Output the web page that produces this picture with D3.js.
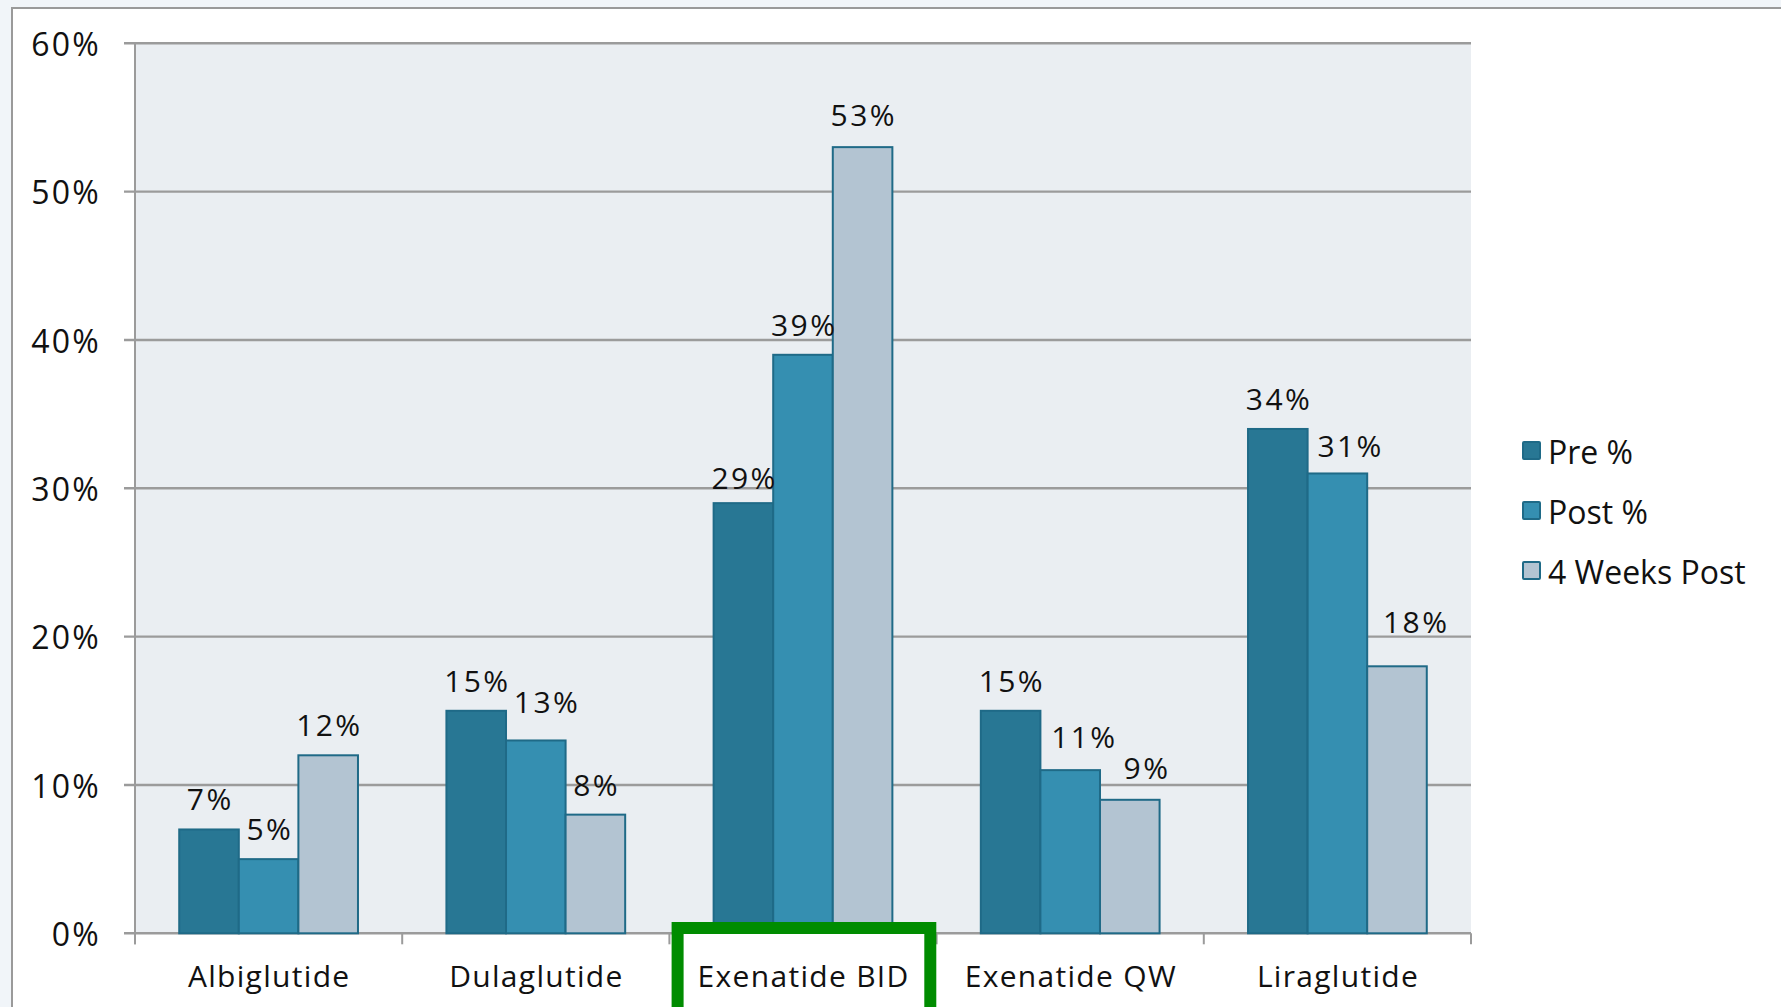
<!DOCTYPE html>
<html>
<head>
<meta charset="utf-8">
<script src="https://cdn.jsdelivr.net/npm/d3@7"></script>
<style>
  html, body { margin: 0; padding: 0; background: #f1f5f9; }
  svg { display: block; }
  text { font-family: "Open Sans", Lato, sans-serif; font-weight: 400; fill: #111; }
</style>
</head>
<body>
<svg id="chart" width="1781" height="1007"></svg>
<script>
// Drug categories and the three survey series
const categories = ["Albiglutide", "Dulaglutide", "Exenatide BID", "Exenatide QW", "Liraglutide"];
const seriesNames = ["Pre %", "Post %", "4 Weeks Post"];
const preValues = [7, 15, 29, 15, 34];
const postValues = [5, 13, 39, 11, 31];
const weeks4Values = [12, 8, 53, 9, 18];
const yTickValues = [0, 10, 20, 30, 40, 50, 60];
const highlighted = "Exenatide BID";

const seriesValues = [preValues, postValues, weeks4Values];
const fills = ["#287794", "#358fb1", "#b3c4d2"];
const barStroke = "#1f6a87";
const FONT = "'Open Sans', Lato, sans-serif";

// Small placement tweaks for value labels so crowded ones clear each other
const labelTweak = {
  "Dulaglutide|1": { dx: 10, dy: -8 },
  "Exenatide QW|1": { dx: 13, dy: -3 },
  "Exenatide QW|2": { dx: 16, dy: -2 },
  "Liraglutide|1": { dx: 12, dy: 3 },
  "Liraglutide|2": { dx: 18, dy: -14 },
  "Exenatide BID|0": { dx: 0, dy: 5 },
  "Exenatide BID|2": { dx: 0, dy: -2 }
};

const svg = d3.select("#chart");
const W = 1781, H = 1007;

// Outer frame
svg.append("rect").attr("x", 0).attr("y", 0).attr("width", W).attr("height", H).attr("fill", "#f1f5f9");
svg.append("rect").attr("x", 12).attr("y", 8).attr("width", W + 20).attr("height", H + 20)
  .attr("fill", "#ffffff").attr("stroke", "#9a9a9a").attr("stroke-width", 2);

const plot = { left: 135, right: 1471, top: 43.3, bottom: 933.3 };

const y = d3.scaleLinear().domain([0, 60]).range([plot.bottom, plot.top]);
const x0 = d3.scaleBand().domain(categories).range([plot.left, plot.right]).padding(0);
const x1 = d3.scaleBand().domain(d3.range(seriesNames.length))
  .range([x0.bandwidth() * 0.1655, x0.bandwidth() * 0.8345]).padding(0);

// Plot background
svg.append("rect")
  .attr("x", plot.left).attr("y", plot.top)
  .attr("width", plot.right - plot.left).attr("height", plot.bottom - plot.top)
  .attr("fill", "#eaeef2");

// Gridlines
svg.append("g").selectAll("line").data(yTickValues).join("line")
  .attr("x1", plot.left - 11).attr("x2", plot.right)
  .attr("y1", d => y(d)).attr("y2", d => y(d))
  .attr("stroke", "#9b9b9b").attr("stroke-width", 2.4);

// Bars
const groups = svg.append("g").selectAll("g").data(categories).join("g")
  .attr("transform", c => `translate(${x0(c)},0)`);

groups.selectAll("rect")
  .data((c, ci) => seriesValues.map((vals, si) => ({ c, si, v: vals[ci] })))
  .join("rect")
  .attr("x", d => x1(d.si))
  .attr("y", d => y(d.v))
  .attr("width", x1.bandwidth())
  .attr("height", d => y(0) - y(d.v))
  .attr("fill", d => fills[d.si])
  .attr("stroke", barStroke)
  .attr("stroke-width", 2);

// Value labels
groups.selectAll("text")
  .data((c, ci) => seriesValues.map((vals, si) => ({ c, si, v: vals[ci] })))
  .join("text")
  .attr("x", d => x1(d.si) + x1.bandwidth() / 2 + 1.2 + ((labelTweak[d.c + "|" + d.si] || {}).dx || 0))
  .attr("y", d => y(d.v) - 19 + ((labelTweak[d.c + "|" + d.si] || {}).dy || 0))
  .attr("text-anchor", "middle")
  .attr("font-size", 30)
  .attr("letter-spacing", 2.4)
  .text(d => d.v + "%");

// Y axis with percent labels
const yAxis = d3.axisLeft(y).tickValues(yTickValues).tickSize(0).tickPadding(0)
  .tickFormat(d => d + "%");
const gy = svg.append("g").attr("transform", `translate(${plot.left - 34},0)`).call(yAxis);
gy.select(".domain").remove();
gy.selectAll("text")
  .attr("font-size", 32)
  .attr("letter-spacing", 2.2)
  .attr("font-family", FONT)
  .attr("fill", "#111")
  .attr("dy", "0.38em");

// Left axis line
svg.append("line")
  .attr("x1", plot.left).attr("x2", plot.left)
  .attr("y1", plot.top).attr("y2", plot.bottom + 11)
  .attr("stroke", "#9b9b9b").attr("stroke-width", 2);

// Category separator ticks on the baseline
const boundaries = categories.map(c => x0(c)).concat([plot.right]);
svg.append("g").selectAll("line").data(boundaries).join("line")
  .attr("x1", d => d).attr("x2", d => d)
  .attr("y1", plot.bottom).attr("y2", plot.bottom + 11)
  .attr("stroke", "#9b9b9b").attr("stroke-width", 2);

// Highlight box round the featured category
const hx = x0(highlighted);
svg.append("rect")
  .attr("x", hx + 8.2).attr("y", plot.bottom - 5.3)
  .attr("width", x0.bandwidth() - 14.5).attr("height", 120)
  .attr("fill", "#ffffff")
  .attr("stroke", "#008c00").attr("stroke-width", 12);

// Category labels
const xAxis = d3.axisBottom(x0).tickSize(0).tickPadding(0);
const gx = svg.append("g").attr("transform", `translate(0.6,${plot.bottom})`).call(xAxis);
gx.select(".domain").remove();
gx.selectAll("text")
  .attr("font-size", 30)
  .attr("letter-spacing", 1.3)
  .attr("font-family", FONT)
  .attr("fill", "#111")
  .attr("dy", null)
  .attr("y", 53.5);

// Legend
const legend = svg.append("g").attr("transform", "translate(1522,441)");
const items = legend.selectAll("g").data(seriesNames).join("g")
  .attr("transform", (d, i) => `translate(0,${i * 60})`);
items.append("rect")
  .attr("x", 1).attr("y", 1).attr("width", 17).attr("height", 17)
  .attr("fill", (d, i) => fills[i])
  .attr("stroke", barStroke).attr("stroke-width", 2).attr("rx", 1);
items.append("text")
  .attr("x", 26).attr("y", 22.5)
  .attr("font-size", 32)
  .text(d => d);
</script>
</body>
</html>
